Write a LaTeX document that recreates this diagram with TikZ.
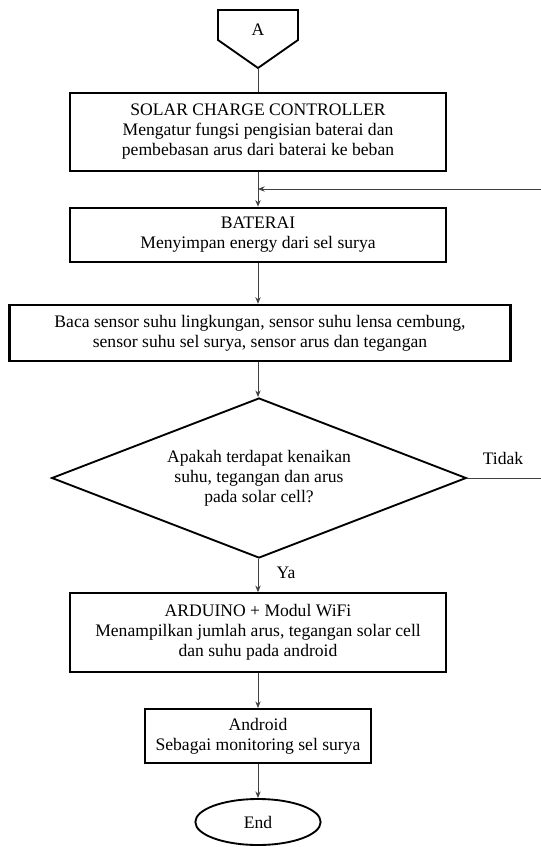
\documentclass[tikz,border=0pt]{standalone}
\usepackage{fontspec}
\setmainfont{Liberation Serif}
\usetikzlibrary{shapes.geometric,arrows.meta}
\begin{document}
\begin{tikzpicture}[x=0.75pt,y=-0.75pt,
  every node/.style={font=\fontsize{13.2}{15}\selectfont},
  proc/.style={draw,line width=1.4pt,rectangle,align=center,inner sep=0pt},
  conn/.style={line width=0.7pt,draw=black!75,-{Stealth[length=5pt,width=4pt]}},
  plain/.style={line width=0.7pt,draw=black!75}]
\useasboundingbox (0,0) rectangle (541,847);
% off-page connector A
\node (A) at (258,30) {A};
\draw[line width=1.4pt] (218,10) -- (298,10) -- (298,40) -- (258,68) -- (218,40) -- cycle;
\coordinate (Atip) at (258,68);
% boxes
\node[proc,minimum width=282pt,minimum height=58.5pt] (b1) at (258,132)
  {SOLAR CHARGE CONTROLLER\\Mengatur fungsi pengisian baterai dan\\pembebasan arus dari baterai ke beban};
\node[proc,minimum width=282pt,minimum height=41pt] (b2) at (258,235)
  {BATERAI\\Menyimpan energy dari sel surya};
\node[proc,line width=1.8pt,minimum width=376pt,minimum height=42pt] (b3) at (260,333)
  {Baca sensor suhu lingkungan, sensor suhu lensa cembung,\\sensor suhu sel surya, sensor arus dan tegangan};
\node[diamond,draw,line width=1.4pt,minimum width=311pt,minimum height=120pt,inner sep=0pt] (dec) at (259,478) {};
\node[align=center] (dect) at (259,478) {Apakah terdapat kenaikan\\suhu, tegangan dan arus\\pada solar cell?};
\node[proc,minimum width=282pt,minimum height=59pt] (b4) at (258,632.5)
  {ARDUINO + Modul WiFi\\Menampilkan jumlah arus, tegangan solar cell\\dan suhu pada android};
\node[proc,minimum width=170pt,minimum height=40.5pt] (b5) at (258,736)
  {Android\\Sebagai monitoring sel surya};
\node[ellipse,draw,line width=1.4pt,minimum width=94pt,minimum height=34.5pt,inner sep=0pt] (end) at (258,822) {End};
% connectors
\draw[plain] (Atip) -- (b1.north);
\draw[conn] (b1.south) -- (b2.north);
\draw[conn] (b2.south) -- (b3.north -| b2.south);
\draw[conn] (b3.south -| b2.south) -- (dec.north -| b2.south);
\draw[conn] (dec.south -| b2.south) -- (b4.north);
\node (ya) at (286,573) {Ya};
\draw[conn] (b4.south) -- (b5.north);
\draw[conn] (b5.south) -- (end.north);
\coordinate (tidakend) at (541,478);
\draw[plain] (dec.east) -- (tidakend);
\node (tidak) at (503,458) {Tidak};
\coordinate (fbstart) at (541,189);
\coordinate (fbend) at (258,189);
\draw[conn] (fbstart) -- (fbend);
\end{tikzpicture}
\end{document}
